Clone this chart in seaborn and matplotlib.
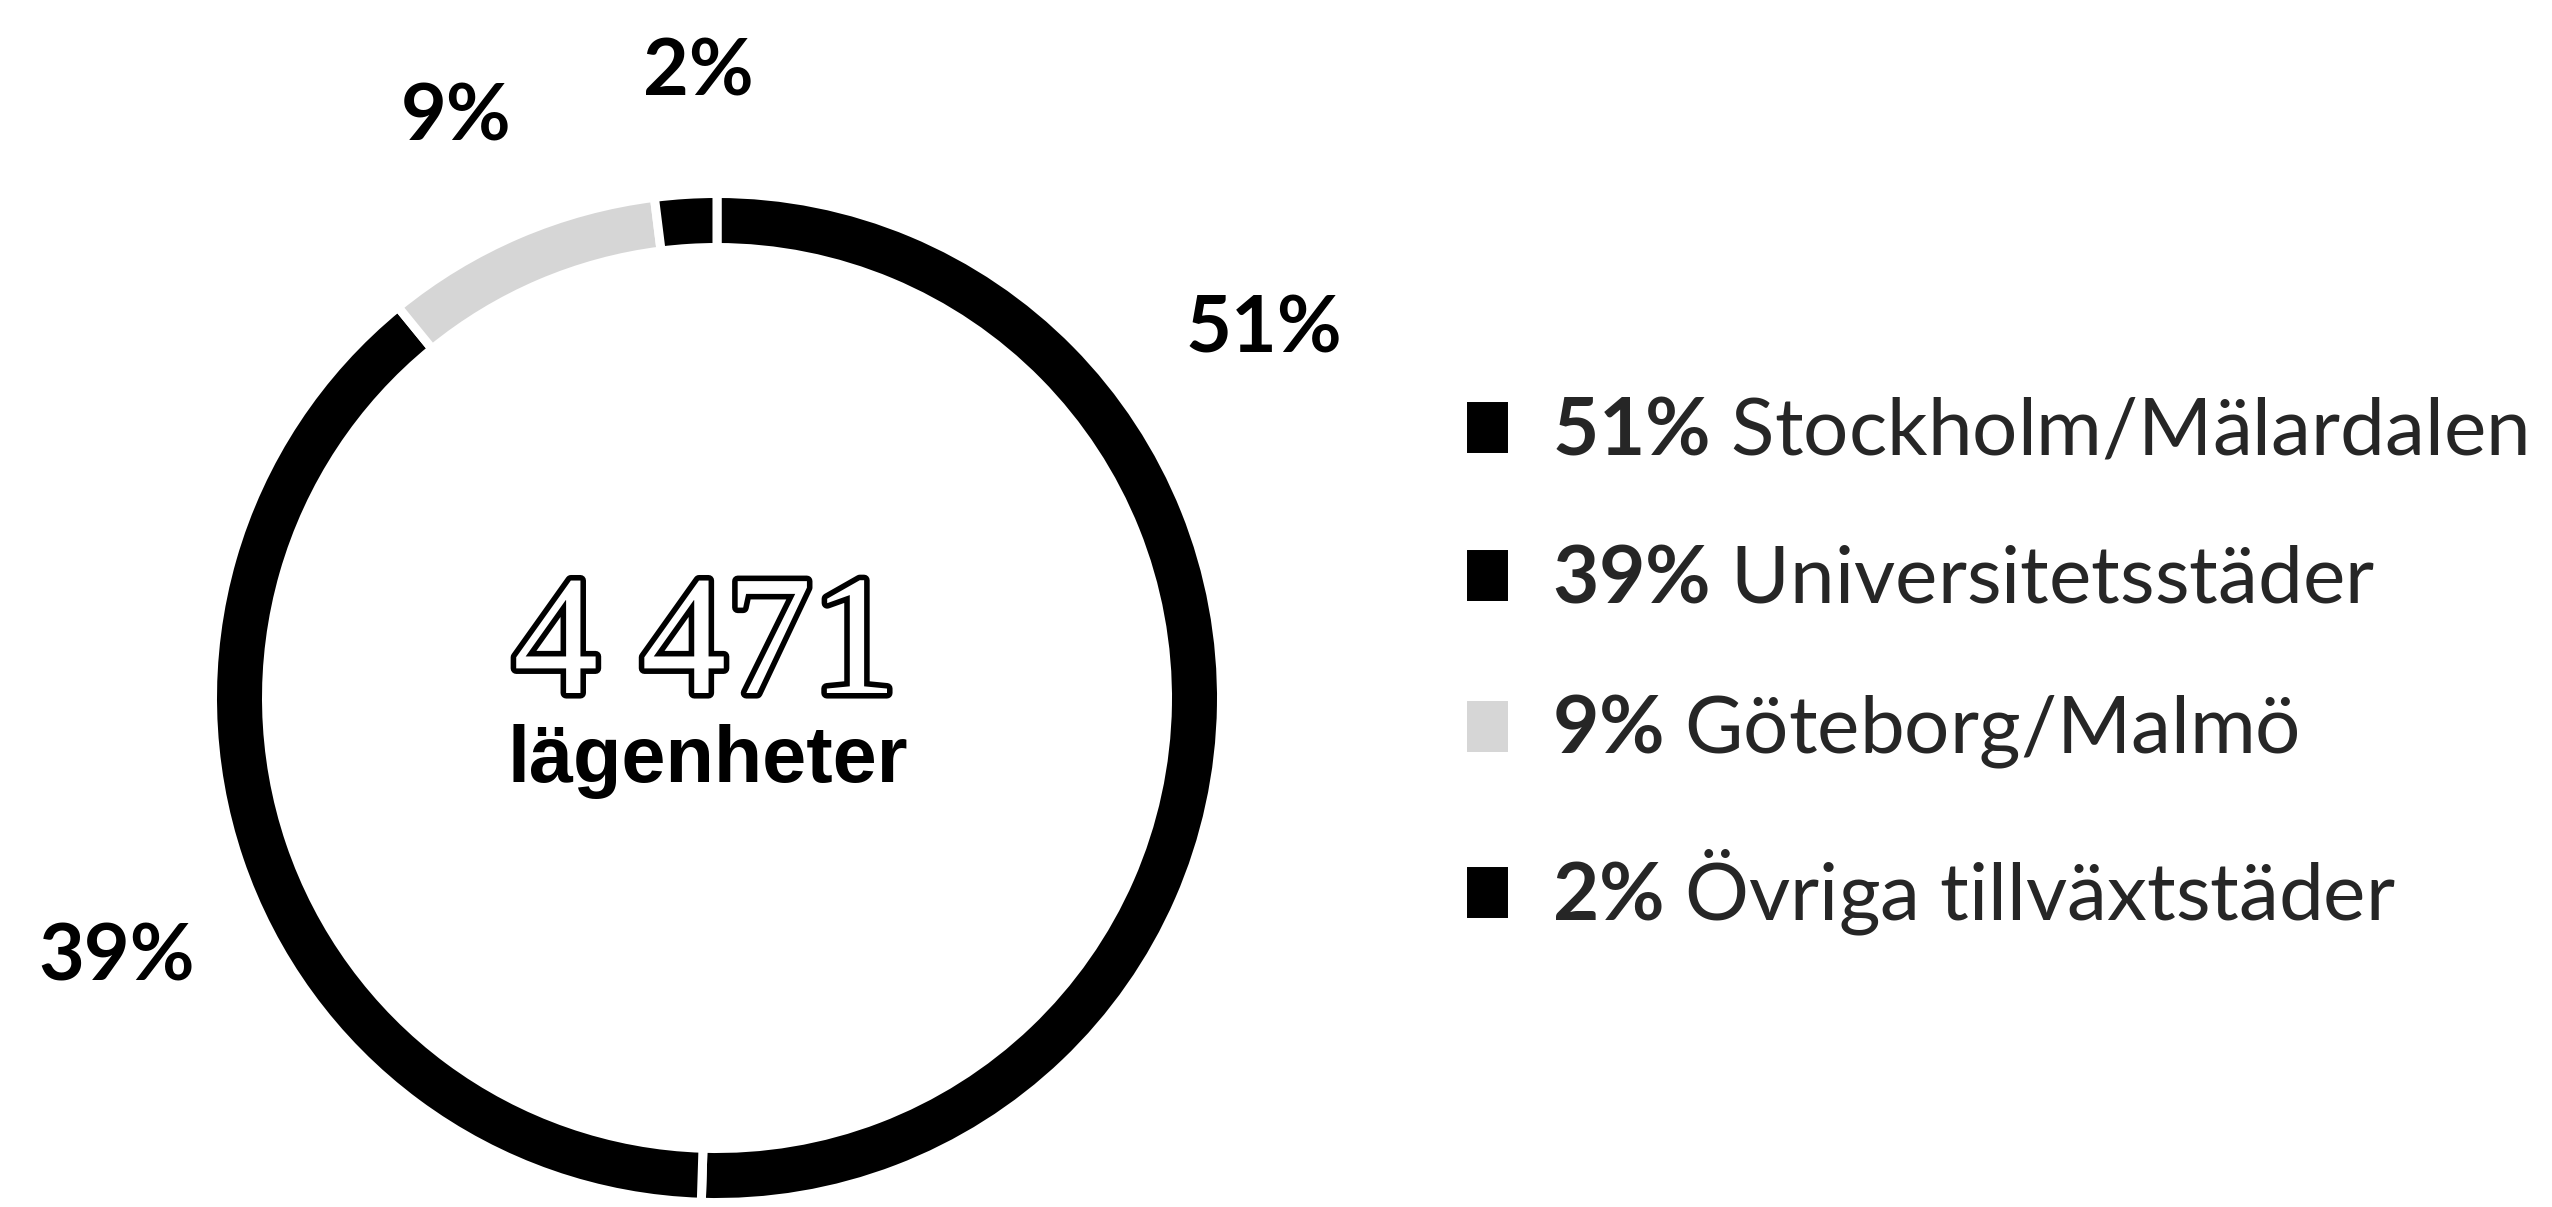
import numpy as np
import matplotlib
matplotlib.use("Agg")
import matplotlib.pyplot as plt
import matplotlib.patheffects as pe
import seaborn as sns

# ---- data ----
regions = ["Stockholm/Mälardalen", "Universitetsstäder", "Göteborg/Malmö", "Övriga tillväxtstäder"]
shares = [51, 39, 9, 2]
pct_labels = ["51%", "39%", "9%", "2%"]
total_count = "4 471"
total_label = "lägenheter"
colors = ["#000000", "#000000", "#d6d6d6", "#000000"]

# ---- style ----
sns.set_theme(style="white")
plt.rcParams['font.family'] = ['Lato', 'DejaVu Sans']
plt.rcParams['mathtext.fontset'] = 'custom'
plt.rcParams['mathtext.rm'] = 'Lato'
plt.rcParams['mathtext.bf'] = 'Lato:bold'

W, H = 2552, 1207
fig = plt.figure(figsize=(W / 100, H / 100), dpi=100)
ax = fig.add_axes([0, 0, 1, 1])

cx, cy = 717, H - 698
R = 500
ring = 45
lw = 6.5
lw_px = lw * 100 / 72

wedges, _ = ax.pie(shares, colors=colors, startangle=90, counterclock=False,
                   radius=R + lw_px / 2, center=(cx, cy),
                   wedgeprops=dict(width=ring + lw_px, edgecolor='white', linewidth=lw))
ax.set_xlim(0, W)
ax.set_ylim(0, H)
ax.set_aspect('equal')
ax.axis('off')

# percentage labels around the ring (angle clockwise from top, distance from centre)
label_theta = [57.7, 244.8, 334.9, 358.2]
label_r = [647, 663, 616, 603]
for txt, th, r in zip(pct_labels, label_theta, label_r):
    a = np.deg2rad(th)
    ax.text(cx + r * np.sin(a), cy + r * np.cos(a), txt, ha='center', va='baseline',
            fontsize=57, fontweight='bold', color='black')

# centre text
ax.text(cx - 12, H - 693, total_count, ha='center', va='baseline', fontsize=123,
        family=['Liberation Serif', 'DejaVu Serif'], color='white',
        path_effects=[pe.withStroke(linewidth=8, foreground='black')])
ax.text(cx - 9, H - 782, total_label, ha='center', va='baseline', fontsize=57,
        fontweight='bold', family=['Liberation Sans', 'DejaVu Sans'], color='black')

# legend, fitted to the reference layout
leg_labels = [rf"$\bf{{{p[:-1]}\%}}$ {r}" for p, r in zip(pct_labels, regions)]
target_text_x = 1552
target_width = 974
target_row_gap = (897 - 428) / 3
target_center_y = H - (428 + 897) / 2

fs, ls, x0, y0 = 55.0, 0.9, 1466.0, target_center_y
for _ in range(4):
    leg = ax.legend(wedges, leg_labels, loc='center left', bbox_to_anchor=(x0, y0),
                    bbox_transform=ax.transData, frameon=False, fontsize=fs,
                    handlelength=0.62, handleheight=0.78, handletextpad=0.5,
                    labelspacing=ls, borderpad=0, borderaxespad=0)
    fig.canvas.draw()
    rnd = fig.canvas.get_renderer()
    tb = [t.get_window_extent(rnd) for t in leg.get_texts()]
    fs *= target_width / tb[0].width
    gap = (tb[0].y0 - tb[3].y0) / 3
    ls += (target_row_gap - gap) / (fs * 100 / 72)
    x0 += target_text_x - tb[0].x0
    cur_c = (tb[0].y0 + tb[0].y1 + tb[3].y0 + tb[3].y1) / 4
    y0 += target_center_y - cur_c

leg = ax.legend(wedges, leg_labels, loc='center left', bbox_to_anchor=(x0, y0),
                bbox_transform=ax.transData, frameon=False, fontsize=fs,
                handlelength=0.62, handleheight=0.78, handletextpad=0.5,
                labelspacing=ls, borderpad=0, borderaxespad=0)

fig.savefig("out.png", dpi=100, facecolor='white')
